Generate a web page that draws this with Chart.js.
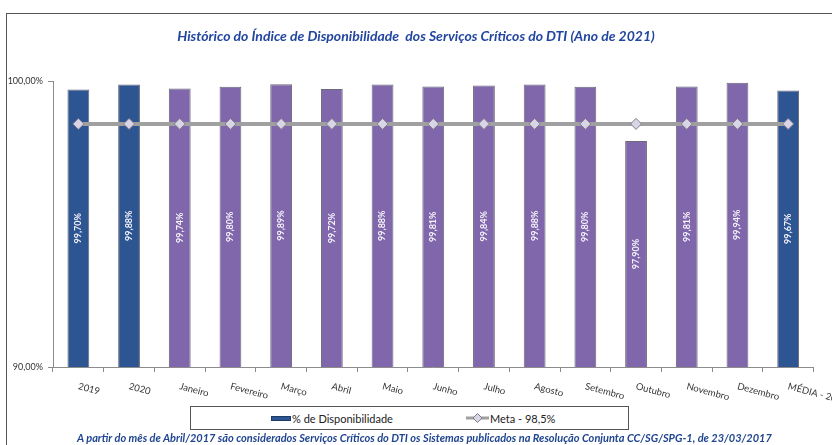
<!DOCTYPE html>
<html lang="pt-BR">
<head>
<meta charset="UTF-8">
<title>Disponibilidade dos Serviços Críticos do DTI</title>
<script src="https://cdn.jsdelivr.net/npm/chart.js"></script>
<style>
    body { margin: 0; background: #fff; }
    .wrap { position: relative; width: 832px; height: 445px; overflow: hidden; }
    .frame { position: absolute; left: 6px; top: 13px; width: 900px; height: 500px;
             border-left: 1px solid #555; border-top: 1px solid #555; }
    #chart { position: absolute; left: 0; top: 0; }
    #legend { position: absolute; left: 190px; top: 406px; width: 437px; height: 22px;
              border: 1px solid #555; background: #fff; font-family: Lato, sans-serif;
              font-size: 11px; color: #222; }
    #legend .item { position: absolute; top: 0; height: 22px; display: flex; align-items: center; }
    #legend .item canvas { margin-right: 1px; }
    #nota { position: absolute; left: 77px; top: 431px; white-space: nowrap;
            font-family: Lato, sans-serif; font-size: 11px; font-style: italic; font-weight: bold;
            color: #1f4590; line-height: 14px; }
</style>
</head>
<body>
<div class="wrap">
    <div class="frame"></div>
    <canvas id="chart" width="832" height="445"></canvas>
    <div id="legend"></div>
    <div id="nota">A partir do mês de Abril/2017 são considerados Serviços Críticos do DTI os Sistemas publicados na Resolução Conjunta CC/SG/SPG-1, de 23/03/2017</div>
</div>
<script>
// categorias do eixo X
var categories = ['2019', '2020', 'Janeiro', 'Fevereiro', 'Março', 'Abril', 'Maio', 'Junho',
    'Julho', 'Agosto', 'Setembro', 'Outubro', 'Novembro', 'Dezembro', 'MÉDIA - 2021'];
// % de disponibilidade
var disponibilidade = [99.70, 99.88, 99.74, 99.80, 99.89, 99.72, 99.88, 99.81,
    99.84, 99.88, 99.80, 97.90, 99.81, 99.94, 99.67];
// meta - 98,5%
var meta = [98.5, 98.5, 98.5, 98.5, 98.5, 98.5, 98.5, 98.5,
    98.5, 98.5, 98.5, 98.5, 98.5, 98.5, 98.5];
// marcas do eixo Y
var yTicks = [90, 100];
// colunas de resumo (anos e média), em azul
var resumo = ['2019', '2020', 'MÉDIA - 2021'];

var AZUL = '#2c5592';
var ROXO = '#8066ab';
var FONT = 'Lato, sans-serif';

function pct(v) {
    return v.toFixed(2).replace('.', ',') + '%';
}

// rotulos do eixo X inclinados para baixo (como no Excel)
var xLabelsPlugin = {
    id: 'xLabels',
    afterDraw: function (chart) {
        var sx = chart.scales.x, c2d = chart.ctx;
        c2d.save();
        c2d.font = '9.5px ' + FONT;
        c2d.fillStyle = '#333';
        c2d.textAlign = 'left';
        c2d.textBaseline = 'middle';
        categories.forEach(function (c, i) {
            c2d.save();
            c2d.translate(sx.getPixelForValue(i), sx.top + 19);
            c2d.rotate(15 * Math.PI / 180);
            c2d.fillText(c, 0, 0);
            c2d.restore();
        });
        c2d.restore();
    }
};

// valores dentro das barras, na vertical
var barLabelsPlugin = {
    id: 'barLabels',
    afterDraw: function (chart) {
        var c2d = chart.ctx, sx = chart.scales.x, sy = chart.scales.y;
        c2d.save();
        c2d.font = 'bold 9px ' + FONT;
        c2d.fillStyle = '#f4f2fa';
        c2d.textAlign = 'center';
        c2d.textBaseline = 'middle';
        disponibilidade.forEach(function (v, i) {
            var x = sx.getPixelForValue(i);
            var y = (sy.getPixelForValue(v) + sy.getPixelForValue(sy.min)) / 2;
            c2d.save();
            c2d.translate(x, y);
            c2d.rotate(-Math.PI / 2);
            c2d.fillText(pct(v), 0, 0);
            c2d.restore();
        });
        c2d.restore();
    }
};

var chart = new Chart(document.getElementById('chart'), {
    type: 'bar',
    data: {
        labels: categories,
        datasets: [{
            type: 'bar',
            label: '% de Disponibilidade',
            data: disponibilidade,
            backgroundColor: function (c) {
                return resumo.indexOf(categories[c.dataIndex]) >= 0 ? AZUL : ROXO;
            },
            borderColor: '#6a6a78',
            borderWidth: 1,
            barPercentage: 0.43,
            categoryPercentage: 1,
            order: 1
        }, {
            type: 'line',
            label: 'Meta - 98,5%',
            data: meta,
            borderColor: '#a0a0a0',
            borderWidth: 4,
            pointStyle: 'rectRot',
            pointRadius: 5.5,
            pointBackgroundColor: '#d9d5e6',
            pointBorderColor: '#7d7b8c',
            pointBorderWidth: 1,
            order: 0
        }]
    },
    options: {
        responsive: false,
        animation: false,
        layout: { padding: { left: 0, right: 0, top: 0, bottom: 41 } },
        plugins: {
            legend: { display: false },
            tooltip: { enabled: false },
            title: {
                display: true,
                text: 'Histórico do Índice de Disponibilidade  dos Serviços Críticos do DTI (Ano de 2021)',
                color: '#2246a0',
                font: { family: FONT, size: 14, style: 'italic', weight: 'bold', lineHeight: 1.2 },
                padding: { top: 28, bottom: 36.2 }
            }
        },
        scales: {
            x: {
                offset: true,
                grid: { drawOnChartArea: false, tickLength: 5, color: '#8c8c8c' },
                border: { color: '#8c8c8c' },
                ticks: { display: false },
                afterFit: function (s) { s.height = 37; }
            },
            y: {
                min: 90,
                max: 100,
                afterBuildTicks: function (s) {
                    s.ticks = yTicks.map(function (v) { return { value: v }; });
                },
                grid: { drawOnChartArea: false, tickLength: 5, color: '#8c8c8c' },
                border: { color: '#8c8c8c' },
                ticks: {
                    padding: 5,
                    color: '#333',
                    font: { family: FONT, size: 9 },
                    callback: function (v) { return pct(v); }
                },
                afterFit: function (s) { s.width = 53; }
            },
            // margem direita vazia (o grafico original continua alem do recorte)
            margem: {
                position: 'right',
                grid: { display: false },
                border: { display: false },
                ticks: { display: false },
                afterFit: function (s) { s.width = 18.5; }
            }
        }
    },
    plugins: [xLabelsPlugin, barLabelsPlugin]
});

// legenda em caixa, montada a partir dos datasets
function icone(ds, i) {
    var c = document.createElement('canvas');
    var g = c.getContext('2d');
    if (i === 0) {
        c.width = 20; c.height = 8;
        g.fillStyle = AZUL;
        g.fillRect(0, 2, 20, 5);
        g.strokeStyle = '#1e3a66';
        g.strokeRect(0.5, 2.5, 19, 4);
    } else {
        c.width = 23; c.height = 12;
        g.strokeStyle = ds.borderColor;
        g.lineWidth = 3;
        g.beginPath(); g.moveTo(0, 6); g.lineTo(23, 6); g.stroke();
        g.fillStyle = ds.pointBackgroundColor;
        g.strokeStyle = ds.pointBorderColor;
        g.lineWidth = 1;
        g.beginPath();
        g.moveTo(11.5, 1.5); g.lineTo(16, 6); g.lineTo(11.5, 10.5); g.lineTo(7, 6); g.closePath();
        g.fill(); g.stroke();
    }
    return c;
}
var legend = document.getElementById('legend');
var posicoes = [80, 275];
chart.data.datasets.forEach(function (ds, i) {
    var item = document.createElement('div');
    item.className = 'item';
    item.style.left = posicoes[i] + 'px';
    item.appendChild(icone(ds, i));
    var t = document.createElement('span');
    t.textContent = ds.label;
    item.appendChild(t);
    legend.appendChild(item);
});
</script>
</body>
</html>
